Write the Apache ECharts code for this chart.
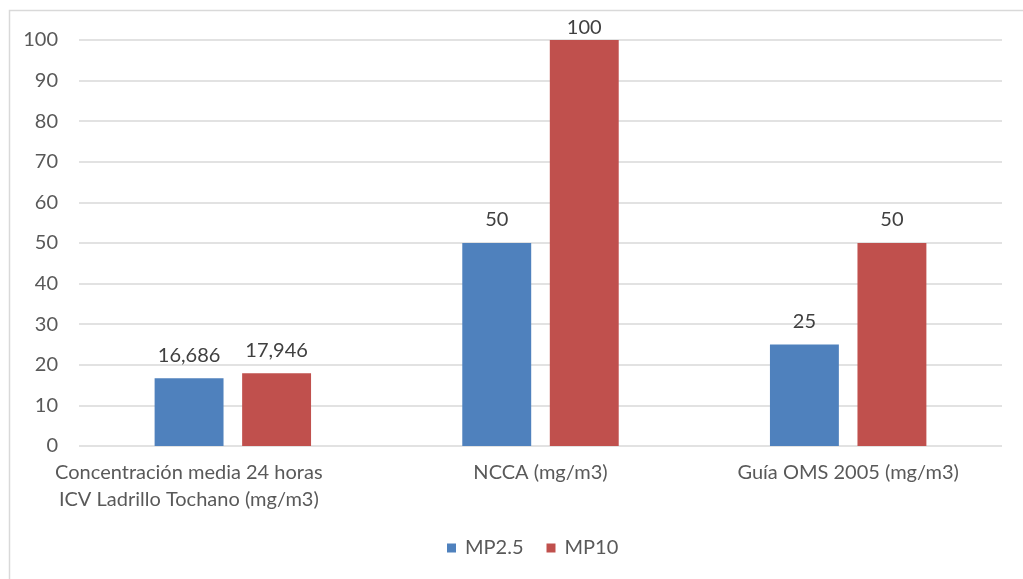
<!DOCTYPE html>
<html>
<head>
<meta charset="utf-8">
<style>
  html, body { margin: 0; padding: 0; background: #fff; }
  #chart { width: 1023px; height: 579px; }
</style>
<script src="https://cdn.jsdelivr.net/npm/echarts@6/dist/echarts.min.js"></script>
</head>
<body>
<div id="chart"></div>
<script>
const categories = [
  'Concentración media 24 horas\nICV Ladrillo Tochano (mg/m3)',
  'NCCA (mg/m3)',
  'Guía OMS 2005 (mg/m3)'
];
const mp25 = [16.686, 50, 25];
const mp10 = [17.946, 100, 50];
const yTicks = { min: 0, max: 100, interval: 10 };

const fontFamily = 'Lato, "Open Sans", sans-serif';
const textColor = '#595959';

const fmt = v => String(v).replace('.', ',');

// the long two-line label sits a little left of its bar pair
const categoryItems = categories.map((c, i) => i === 0
  ? { value: c, textStyle: { padding: [0, 88, 0, 0] } }
  : c);

// a bar reaching the axis maximum keeps its label tucked just above it, inside the frame
const withLabelFit = arr => arr.map(v => v >= yTicks.max
  ? { value: v, label: { distance: 2 } }
  : v);

const labelStyle = { show: true, position: 'top', distance: 13, color: '#404040', fontSize: 20, formatter: p => fmt(p.value) };

const chart = echarts.init(document.getElementById('chart'));
chart.setOption({
  animation: false,
  textStyle: { fontFamily: fontFamily },
  graphic: [{
    type: 'rect',
    shape: { x: 9.5, y: 10.5, width: 1020, height: 580 },
    style: { fill: 'none', stroke: '#d9d9d9', lineWidth: 1.5 },
    silent: true
  }],
  grid: { left: 79, right: 21, top: 40, bottom: 133 },
  legend: {
    bottom: 16,
    left: 442,
    itemWidth: 9,
    itemHeight: 9,
    itemGap: 23,
    icon: 'rect',
    textStyle: { color: textColor, fontSize: 20, fontFamily: fontFamily, padding: [0, 0, 0, 4] }
  },
  xAxis: {
    type: 'category',
    data: categoryItems,
    axisLine: { show: false },
    axisTick: { show: false },
    axisLabel: { color: textColor, fontSize: 20, lineHeight: 27, margin: 13, interval: 0 }
  },
  yAxis: {
    type: 'value',
    min: yTicks.min,
    max: yTicks.max,
    interval: yTicks.interval,
    axisLine: { show: false },
    axisTick: { show: false },
    axisLabel: { color: textColor, fontSize: 20, margin: 21 },
    splitLine: { lineStyle: { color: '#d9d9d9', width: 1.5 } }
  },
  series: [
    {
      name: 'MP2.5',
      type: 'bar',
      data: withLabelFit(mp25),
      barWidth: '22.4%',
      barGap: '27%',
      itemStyle: { color: '#4f81bd' },
      label: labelStyle
    },
    {
      name: 'MP10',
      type: 'bar',
      data: withLabelFit(mp10),
      barWidth: '22.4%',
      barGap: '27%',
      itemStyle: { color: '#c0504d' },
      label: labelStyle
    }
  ]
});
</script>
</body>
</html>
